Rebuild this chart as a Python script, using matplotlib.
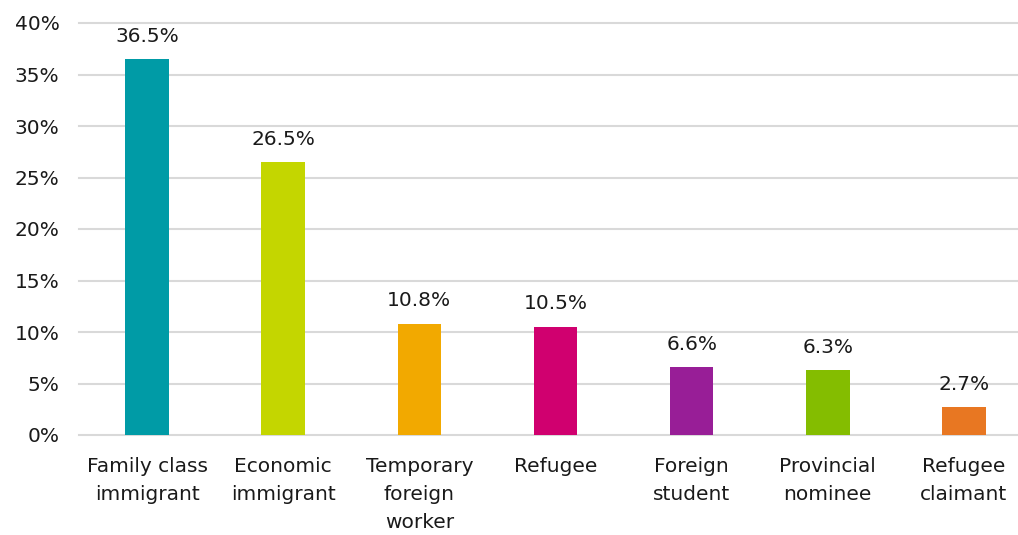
import matplotlib.pyplot as plt
from matplotlib.ticker import FuncFormatter

categories = ["Family class\nimmigrant", "Economic\nimmigrant", "Temporary\nforeign\nworker",
              "Refugee", "Foreign\nstudent", "Provincial\nnominee", "Refugee\nclaimant"]
values = [36.5, 26.5, 10.8, 10.5, 6.6, 6.3, 2.7]
colors = ["#009ba6", "#c4d600", "#f2a900", "#d0006f", "#981e97", "#84bd00", "#e87722"]

plt.rcParams['font.family'] = ['DejaVu Sans']

fig = plt.figure(figsize=(10.18, 5.35), dpi=100)
ax = fig.add_axes([79 / 1018, 1 - 435 / 535, 953 / 1018, 412 / 535])

x = range(len(values))
ax.bar(x, values, width=0.32, color=colors, zorder=3)
for xi, v in zip(x, values):
    ax.text(xi, v + 1.3, f"{v:.1f}%", ha='center', va='bottom', fontsize=14.5, color='#1a1a1a')

ax.set_xlim(-0.5, 6.5)
ax.set_ylim(0, 40)
ax.set_yticks(range(0, 41, 5))
ax.yaxis.set_major_formatter(FuncFormatter(lambda v, p: f"{int(v)}%"))
ax.set_xticks(list(x))
ax.set_xticklabels(categories, linespacing=1.58)
ax.tick_params(axis='both', length=0, labelsize=14.5, colors='#1a1a1a')
ax.tick_params(axis='y', pad=14)
ax.tick_params(axis='x', pad=16)
ax.grid(axis='y', color='#d9d9d9', linewidth=1.5, zorder=0)
for line in ax.get_ygridlines():
    line.set_clip_on(False)
for s in ax.spines.values():
    s.set_visible(False)

fig.savefig("out.png", dpi=100)
